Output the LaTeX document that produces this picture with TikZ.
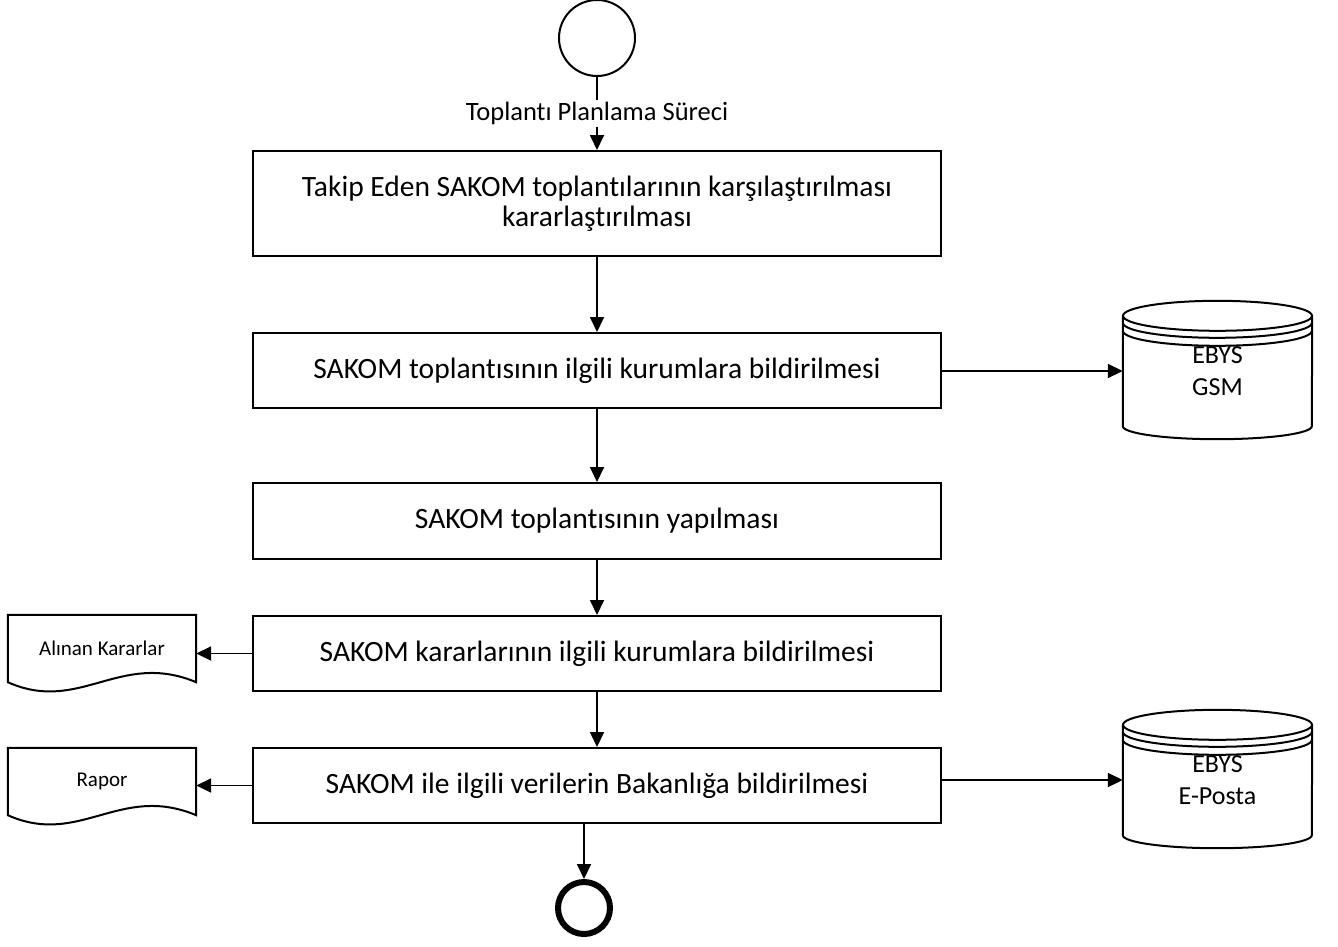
\documentclass[tikz,border=0pt]{standalone}
\usepackage{fontspec}
\setmainfont{Carlito}[Ligatures=NoCommon]
\usetikzlibrary{arrows.meta,calc}
\begin{document}
\begin{tikzpicture}[x=1pt,y=-1pt,
  box/.style={draw, line width=2pt, minimum width=688pt, inner sep=0pt, align=center, font=\fontsize{29.5}{29.5}\selectfont},
  conn/.style={line width=1.8pt, -{Triangle[length=15pt,width=14pt]}},
  shp/.style={line width=2pt},
  dbnode/.style={minimum width=189pt, minimum height=110pt, inner sep=0pt, align=center, font=\fontsize{26}{32}\selectfont},
  docnode/.style={minimum width=188pt, minimum height=67pt, inner sep=0pt, align=center, font=\fontsize{21}{25}\selectfont},
]
\useasboundingbox (0,0) rectangle (1338,946);

% start / end
\node[circle, draw, line width=2pt, minimum size=76pt, inner sep=0pt] (start) at (597,38) {};
\node[circle, draw, line width=6pt, minimum size=52pt, inner sep=0pt] (end) at (584,908) {};

% process boxes
\node[box, minimum height=105pt] (b1) at (597,203.5) {Takip Eden SAKOM toplantılarının karşılaştırılması\\kararlaştırılması};
\node[box, minimum height=75pt] (b2) at (597,370.5) {SAKOM toplantısının ilgili kurumlara bildirilmesi};
\node[box, minimum height=76pt] (b3) at (597,521) {SAKOM toplantısının yapılması};
\node[box, minimum height=75pt] (b4) at (597,653.5) {SAKOM kararlarının ilgili kurumlara bildirilmesi};
\node[box, minimum height=75pt] (b5) at (597,785.5) {SAKOM ile ilgili verilerin Bakanlığa bildirilmesi};

% databases
\node[dbnode] (db1) at (1217.5,371) {EBYS\\GSM};
\node[dbnode] (db2) at (1217.5,780) {EBYS\\E-Posta};
\foreach \n in {db1,db2}{
  \draw[shp] (\n.north) ellipse [x radius=94.5pt, y radius=15pt];
  \draw[shp] ($(\n.north west)+(0,7)$) arc [start angle=180, end angle=360, x radius=94.5pt, y radius=15pt];
  \draw[shp] ($(\n.north west)+(0,15)$) arc [start angle=180, end angle=360, x radius=94.5pt, y radius=15pt];
  \draw[shp] (\n.north west) -- (\n.south west) arc [start angle=180, end angle=360, x radius=94.5pt, y radius=13pt] -- (\n.north east);
}

% documents
\node[docnode] (docA) at (102,648.5) {Alınan Kararlar};
\node[docnode] (docR) at (102,781.5) {Rapor};
\foreach \n in {docA,docR}{
  \draw[shp] (\n.north west) -- (\n.north east) -- (\n.south east)
    .. controls ($(\n.south west)+(112,-32)$) and ($(\n.south west)+(72,32)$) .. (\n.south west) -- cycle;
}

% connectors
\draw[conn] (start) -- node[fill=white, inner xsep=2pt, inner ysep=2pt, font=\fontsize{26.5}{30}\selectfont] (lbl) {Toplantı Planlama Süreci} (b1);
\draw[conn] (b1) -- (b2);
\draw[conn] (b2) -- (b3);
\draw[conn] (b3) -- (b4);
\draw[conn] (b4) -- (b5);
\draw[conn] (end.north |- b5.south) -- (end.north);
\draw[conn] (b2.east |- db1.west) -- (db1.west);
\draw[conn] (b5.east |- db2.west) -- (db2.west);
\draw[conn] (b4.west) -- (b4.west -| docA.east);
\draw[conn] (b5.west) -- (b5.west -| docR.east);
\end{tikzpicture}
\end{document}
